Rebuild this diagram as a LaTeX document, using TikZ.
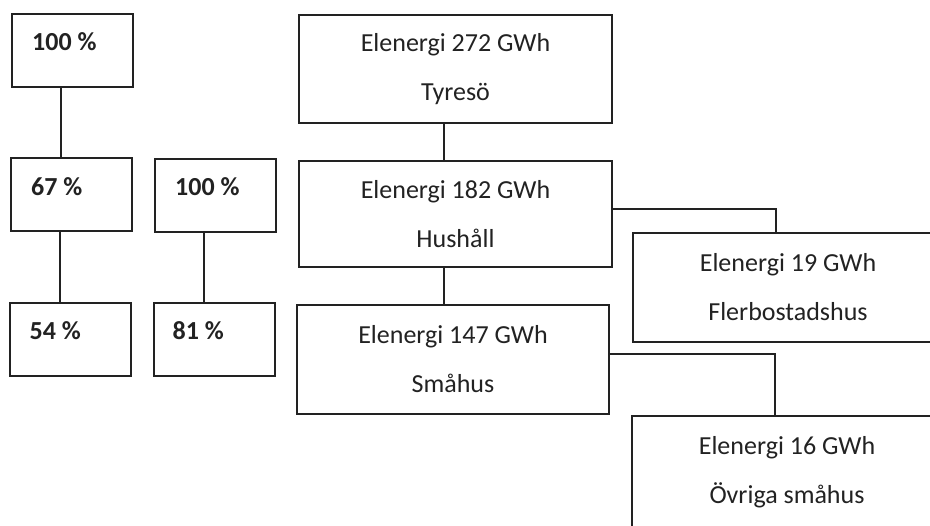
\documentclass[tikz,border=0pt]{standalone}
\usepackage{fontspec}
\setmainfont{Carlito}
\usetikzlibrary{calc}
\definecolor{ink}{RGB}{34,34,34}
\begin{document}
\begin{tikzpicture}[x=1pt,y=-1pt,
  box/.style={draw=ink, line width=2pt, rectangle, inner sep=0pt, text=ink},
  pbox/.style={box, minimum width=121pt, minimum height=73pt},
  ebox/.style={box, minimum width=313pt, minimum height=108pt, align=center, font=\fontsize{26}{49}\selectfont},
  ptext/.style={anchor=west, inner sep=0pt, text=ink, font=\fontsize{26}{30}\selectfont\bfseries},
  link/.style={draw=ink, line width=2pt}]
\useasboundingbox (0,0) rectangle (930,526);
\clip (0,0) rectangle (930,526);
% percentage boxes
\node[pbox] (p1) at (72.5,50.5) {};
\node[pbox] (p2) at (71.5,195) {};
\node[pbox] (p3) at (70,339.5) {};
\node[pbox] (q1) at (215.5,195.5) {};
\node[pbox] (q2) at (214,339.5) {};
\node[ptext] (p1t) at ($(p1.north west)+(21,29)$) {100 \%};
\node[ptext] (p2t) at ($(p2.north west)+(21,29)$) {67 \%};
\node[ptext] (p3t) at ($(p3.north west)+(21,29)$) {54 \%};
\node[ptext] (q1t) at ($(q1.north west)+(21,29)$) {100 \%};
\node[ptext] (q2t) at ($(q2.north west)+(20,29)$) {81 \%};
% energy boxes
\node[ebox] (t) at (455.5,69) {Elenergi 272 GWh\\Tyresö};
\node[ebox, minimum height=106pt] (h) at (455.5,214) {Elenergi 182 GWh\\Hushåll};
\node[ebox, minimum width=312pt, minimum height=109pt] (s) at (453,359.5) {Elenergi 147 GWh\\Småhus};
\node[ebox, minimum width=310pt, minimum height=109pt] (f) at (788,287.5) {Elenergi 19 GWh\\Flerbostadshus};
\node[ebox, minimum width=310pt, minimum height=112pt] (o) at (787,472) {Elenergi 16 GWh\\Övriga småhus};
% connectors
\draw[link] ([xshift=-12pt]p1.south) -- ([xshift=-12pt]p1.south |- p2.north);
\draw[link] ([xshift=-12pt]p2.south) -- ([xshift=-12pt]p2.south |- p3.north);
\draw[link] ([xshift=-12pt]q1.south) -- ([xshift=-12pt]q1.south |- q2.north);
\draw[link] ([xshift=-12pt]t.south) -- ([xshift=-12pt]t.south |- h.north);
\draw[link] ([xshift=-12pt]h.south) -- ([xshift=-12pt]h.south |- s.north);
\draw[link] ([yshift=5pt]h.east) -| ([xshift=-12pt]f.north);
\draw[link] ([yshift=5pt]s.east) -| ([xshift=-12pt]o.north);
\end{tikzpicture}
\end{document}
